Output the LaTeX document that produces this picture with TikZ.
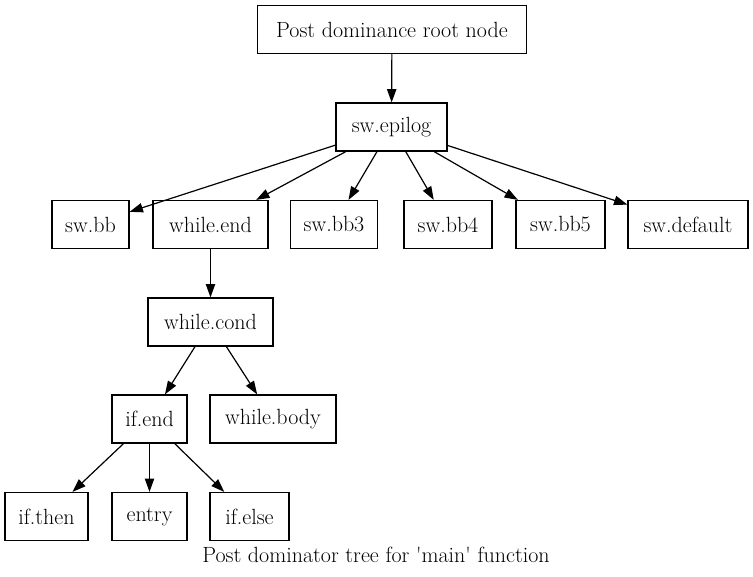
\documentclass[tikz,border=0pt]{standalone}
\usetikzlibrary{arrows.meta}
\begin{document}
\begin{tikzpicture}[x=0.75pt,y=-0.75pt,
  box/.style={draw,line width=0.9pt,minimum height=36pt,inner sep=0pt,font=\fontsize{16.5}{19}\selectfont},
  edge/.style={line width=0.9pt,-{Triangle[length=10pt,width=7pt]}}]
\useasboundingbox (0,0) rectangle (753,577);
\node[box,minimum width=269*0.75pt] (root) at (392,29.5) {Post dominance root node};
\node[box,minimum width=111*0.75pt] (epilog) at (391.5,127) {sw.epilog};
\node[box,minimum width=77*0.75pt] (swbb) at (90.5,224.5) {sw.bb};
\node[box,minimum width=115*0.75pt] (wend) at (210.5,224.5) {while.end};
\node[box,minimum width=87*0.75pt] (bb3) at (334,224.5) {sw.bb3};
\node[box,minimum width=88*0.75pt] (bb4) at (448,224.5) {sw.bb4};
\node[box,minimum width=89*0.75pt] (bb5) at (560.5,224.5) {sw.bb5};
\node[box,minimum width=120*0.75pt] (def) at (688,224.5) {sw.default};
\node[box,minimum width=125*0.75pt] (wcond) at (210.5,322) {while.cond};
\node[box,minimum width=75*0.75pt] (ifend) at (149.5,419) {if.end};
\node[box,minimum width=126*0.75pt] (wbody) at (273,419) {while.body};
\node[box,minimum width=83*0.75pt] (ifthen) at (46.5,516.5) {if.then};
\node[box,minimum width=75*0.75pt] (entry) at (149.5,516.5) {entry};
\node[box,minimum width=79*0.75pt] (ifelse) at (249.5,516.5) {if.else};
\node[font=\fontsize{16.5}{19}\selectfont,anchor=base] (cap) at (376,562) {Post dominator tree for \textquotesingle main\textquotesingle\ function};
\draw[edge] (root) -- (epilog);
\draw[edge] (epilog) -- (swbb);
\draw[edge] (epilog) -- (wend);
\draw[edge] (epilog) -- (bb3);
\draw[edge] (epilog) -- (bb4);
\draw[edge] (epilog) -- (bb5);
\draw[edge] (epilog) -- (def);
\draw[edge] (wend) -- (wcond);
\draw[edge] (wcond) -- (ifend);
\draw[edge] (wcond) -- (wbody);
\draw[edge] (ifend) -- (ifthen);
\draw[edge] (ifend) -- (entry);
\draw[edge] (ifend) -- (ifelse);
\end{tikzpicture}
\end{document}
